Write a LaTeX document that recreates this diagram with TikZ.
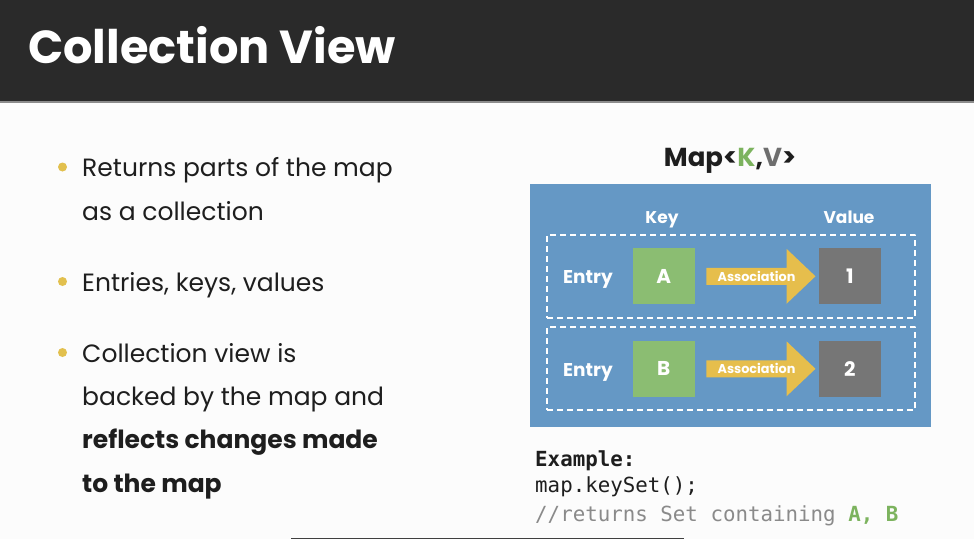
\documentclass[tikz,border=0pt]{standalone}
\usepackage{fontspec}
\setmainfont{Poppins}
\setmonofont{DejaVu Sans Mono}
\usetikzlibrary{shapes.arrows,positioning}

\definecolor{barbg}{HTML}{2A2A2A}
\definecolor{pagebg}{HTML}{FCFCFC}
\definecolor{dotyel}{HTML}{E2C04E}
\definecolor{txt}{HTML}{1E1E1E}
\definecolor{mapblue}{HTML}{6598C5}
\definecolor{keygreen}{HTML}{8BBD72}
\definecolor{kgreen}{HTML}{7CB35E}
\definecolor{valgray}{HTML}{767676}
\definecolor{vgray}{HTML}{6E6E6E}
\definecolor{arryel}{HTML}{E6BE4C}
\definecolor{cmtgray}{HTML}{8A8A8A}

\begin{document}
\begin{tikzpicture}[x=1pt,y=-1pt,line cap=round,line join=round,
  every node/.style={inner sep=0pt},
  dot/.style={circle,fill=dotyel,minimum size=9pt},
  bullet/.style={anchor=base west,text=txt,font=\fontsize{25}{25}\selectfont},
  cell/.style={minimum width=62pt,minimum height=56pt,text=white,font=\fontsize{20}{20}\selectfont\bfseries},
  entrybox/.style={draw=white,line width=2pt,line cap=butt,dash pattern=on 6pt off 4pt,minimum width=368pt,minimum height=83pt},
  assoc/.style={single arrow,fill=arryel,single arrow head extend=12pt,single arrow tip angle=87,minimum height=109pt,minimum width=55pt,text=white,font=\fontsize{12.8}{12.8}\selectfont\bfseries},
  code/.style={anchor=base west,font=\fontsize{20.8}{20.8}\selectfont\ttfamily}]
  \useasboundingbox (0,0) rectangle (974,539);
  \fill[pagebg] (0,0) rectangle (974,539);
  % header
  \fill[barbg] (0,0) rectangle (974,101);
  \fill[black!45] (0,101) rectangle (974,103);
  \node[anchor=base west,text=white,font=\fontsize{46.3}{46.3}\selectfont\bfseries] (title) at (28,63) {Collection View};
  % bullets
  \node[dot] (d1) at (62.5,167) {};
  \node[dot] (d2) at (62.5,281.5) {};
  \node[dot] (d3) at (62.5,352.5) {};
  \node[bullet] (b1) at (82,176) {Returns parts of the map};
  \node[bullet] (b1b) at (82,220) {as a collection};
  \node[bullet] (b2) at (82,291) {Entries, keys, values};
  \node[bullet] (b3) at (82,362) {Collection view is};
  \node[bullet] (b3b) at (82,405.5) {backed by the map and};
  \node[bullet,font=\fontsize{25}{25}\selectfont\bfseries] (b3c) at (82,448.5) {reflects changes made};
  \node[bullet,font=\fontsize{25}{25}\selectfont\bfseries] (b3d) at (82,492) {to the map};
  % map
  \node[anchor=base,text=txt,font=\fontsize{26}{26}\selectfont\bfseries] (maphd) at (730,166)
    {Map<\textcolor{kgreen}{K},\textcolor{vgray}{V}>};
  \fill[mapblue] (530,184) rectangle (931,427);
  \node[anchor=base,text=white,font=\fontsize{17}{17}\selectfont\bfseries] (keyhd) at (662,223) {Key};
  \node[anchor=base,text=white,font=\fontsize{17}{17}\selectfont\bfseries] (valhd) at (849,223) {Value};
  \foreach \r/\k/\v/\y in {A/A/1/276.3,B/B/2/368.8}{
    \node[entrybox] (entry\r) at (731,\y) {};
    \node[anchor=base,text=white,font=\fontsize{18.5}{18.5}\selectfont\bfseries] (lbl\r) at (588,\y+7.5) {Entry};
    \node[cell,fill=keygreen] (key\r) at (663.7,\y) {\k};
    \node[cell,fill=valgray] (val\r) at (849.8,\y) {\v};
    \node[assoc] (assoc\r) at (756.5,\y) {Association};
  }
  % example
  \node[code,text=txt] (ex1) at (535,466) {\bfseries Example:};
  \node[code,text=txt] (ex2) at (535,492.5) {map.keySet();};
  \node[code,text=cmtgray] (ex3) at (535,521.5)
    {//returns Set containing \textcolor{kgreen}{\bfseries A, B}};
  \draw[black!75,line width=1.5pt,line cap=butt] (291,538.3) -- (684,538.3);
\end{tikzpicture}
\end{document}
